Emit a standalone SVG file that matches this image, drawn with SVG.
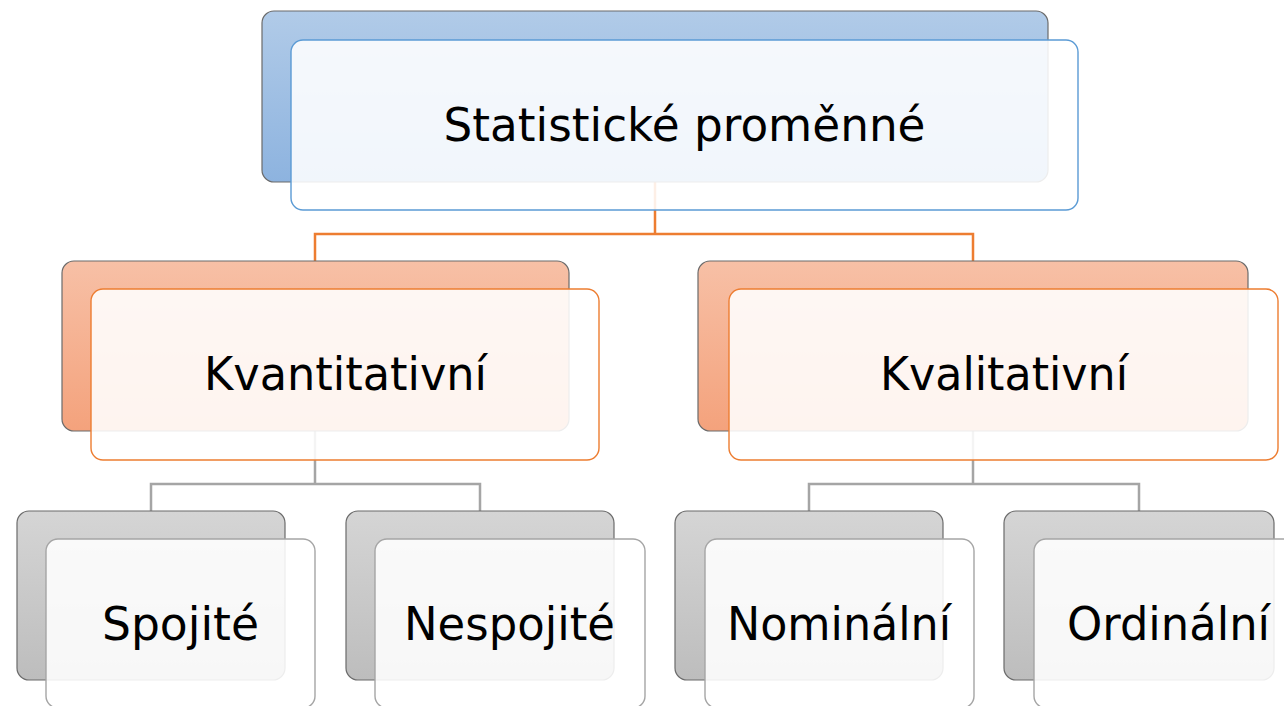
<svg xmlns="http://www.w3.org/2000/svg" width="1284" height="706" viewBox="0 0 1284 706">
  <defs>
    <linearGradient id="gBlue" x1="0" y1="0" x2="0" y2="1">
      <stop offset="0" stop-color="#b1cbe8"/>
      <stop offset="1" stop-color="#8db3df"/>
    </linearGradient>
    <linearGradient id="gOrange" x1="0" y1="0" x2="0" y2="1">
      <stop offset="0" stop-color="#f7c0a6"/>
      <stop offset="1" stop-color="#f4a27c"/>
    </linearGradient>
    <linearGradient id="gGray" x1="0" y1="0" x2="0" y2="1">
      <stop offset="0" stop-color="#d5d5d5"/>
      <stop offset="1" stop-color="#bdbdbd"/>
    </linearGradient>
  </defs>
  <style>
    .back { stroke: #6b6b6b; stroke-width: 1.2; }
    .front { fill: #ffffff; fill-opacity: 0.88; stroke-width: 1.4; }
    .fb { stroke: #5b9bd5; }
    .fo { stroke: #ed7d31; }
    .fg { stroke: #a5a5a5; }
    .lbl { font-family: "DejaVu Sans", "Liberation Sans", sans-serif; font-size: 47px; fill: #000000; text-anchor: middle; }
    .co { fill: none; stroke: #ed7d31; stroke-width: 2.5; }
    .cg { fill: none; stroke: #a5a5a5; stroke-width: 2.5; }
  </style>
  <rect width="1284" height="706" fill="#ffffff"/>

  <g id="connectors">
    <path class="co" d="M655,182 V234 H315 V261 M655,234 H973 V261"/>
    <path class="cg" d="M315,431 V484 H151 V511 M315,484 H480 V511"/>
    <path class="cg" d="M973,431 V484 H809 V511 M973,484 H1139 V511"/>
  </g>

  <g id="node-statisticke">
    <rect class="back" x="262" y="11" width="786" height="171" rx="12" fill="url(#gBlue)"/>
    <rect class="front fb" x="291" y="40" width="787" height="170" rx="12"/>
    <text class="lbl" x="684.5" y="141" textLength="482" lengthAdjust="spacingAndGlyphs">Statistické proměnné</text>
  </g>

  <g id="node-kvantitativni">
    <rect class="back" x="62" y="261" width="507" height="170" rx="12" fill="url(#gOrange)"/>
    <rect class="front fo" x="91" y="289" width="508" height="171" rx="12"/>
    <text class="lbl" x="345.5" y="390" textLength="283" lengthAdjust="spacingAndGlyphs">Kvantitativní</text>
  </g>

  <g id="node-kvalitativni">
    <rect class="back" x="698" y="261" width="550" height="170" rx="12" fill="url(#gOrange)"/>
    <rect class="front fo" x="729" y="289" width="549" height="171" rx="12"/>
    <text class="lbl" x="1004" y="390" textLength="248" lengthAdjust="spacingAndGlyphs">Kvalitativní</text>
  </g>

  <g id="node-spojite">
    <rect class="back" x="17" y="511" width="268" height="169" rx="12" fill="url(#gGray)"/>
    <rect class="front fg" x="46" y="539" width="269" height="169" rx="12"/>
    <text class="lbl" x="180.5" y="640" textLength="157" lengthAdjust="spacingAndGlyphs">Spojité</text>
  </g>

  <g id="node-nespojite">
    <rect class="back" x="346" y="511" width="268" height="169" rx="12" fill="url(#gGray)"/>
    <rect class="front fg" x="375" y="539" width="270" height="169" rx="12"/>
    <text class="lbl" x="509.5" y="640" textLength="211" lengthAdjust="spacingAndGlyphs">Nespojité</text>
  </g>

  <g id="node-nominalni">
    <rect class="back" x="675" y="511" width="268" height="169" rx="12" fill="url(#gGray)"/>
    <rect class="front fg" x="705" y="539" width="269" height="169" rx="12"/>
    <text class="lbl" x="839" y="640" textLength="224" lengthAdjust="spacingAndGlyphs">Nominální</text>
  </g>

  <g id="node-ordinalni">
    <rect class="back" x="1004" y="511" width="270" height="169" rx="12" fill="url(#gGray)"/>
    <rect class="front fg" x="1034" y="539" width="269" height="169" rx="12"/>
    <text class="lbl" x="1168.5" y="640" textLength="203" lengthAdjust="spacingAndGlyphs">Ordinální</text>
  </g>
</svg>
